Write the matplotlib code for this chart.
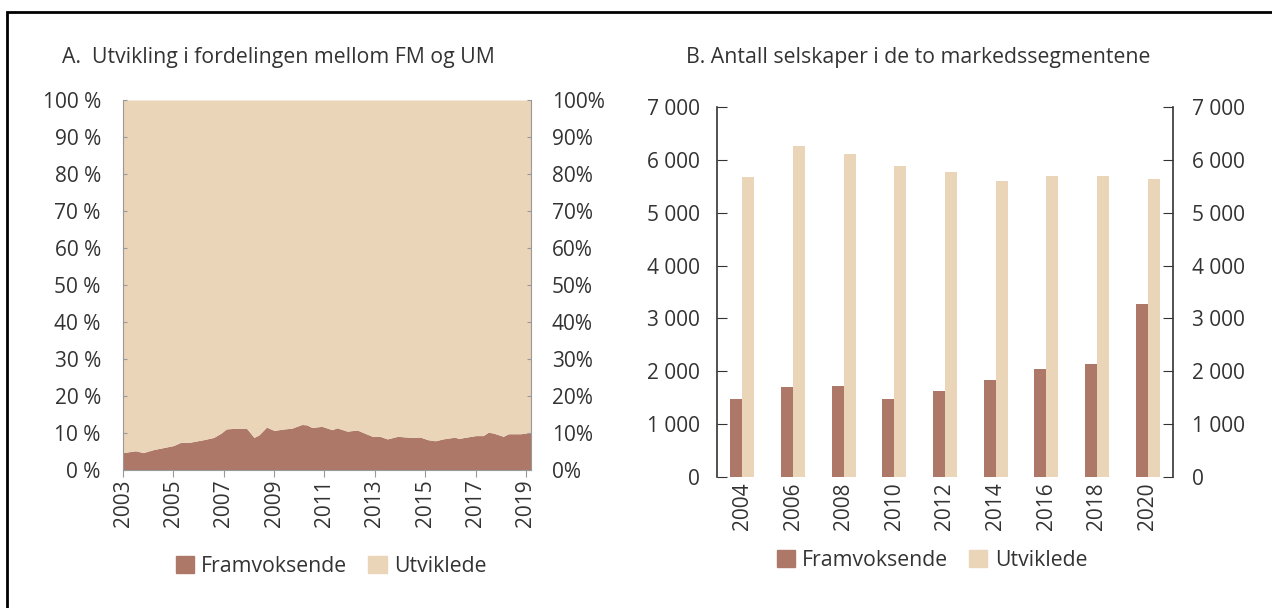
import matplotlib.pyplot as plt
import matplotlib.ticker as mticker
from matplotlib.patches import Patch, Rectangle

plt.rcParams['font.family'] = ['Open Sans', 'DejaVu Sans']
plt.rcParams['text.color'] = '#333333'
plt.rcParams['xtick.color'] = '#333333'
plt.rcParams['ytick.color'] = '#333333'

# Panel A: share of Framvoksende (FM) in percent
share_years = [2003.0, 2003.5, 2003.8, 2004.2, 2005.0, 2005.3, 2005.65, 2006.2, 2006.6,
               2006.9, 2007.1, 2007.5, 2007.9, 2008.0, 2008.2, 2008.4, 2008.7, 2009.0,
               2009.4, 2009.7, 2010.1, 2010.3, 2010.5, 2010.9, 2011.3, 2011.5, 2011.9,
               2012.3, 2012.9, 2013.2, 2013.5, 2013.9, 2014.5, 2014.8, 2015.1, 2015.4,
               2015.7, 2016.2, 2016.3, 2017.0, 2017.3, 2017.5, 2017.7, 2018.1, 2018.3,
               2018.8, 2019.2]
share_fm = [4.7, 5.2, 4.7, 5.5, 6.6, 7.5, 7.5, 8.2, 8.8,
            10.0, 11.1, 11.3, 11.3, 10.5, 8.8, 9.5, 11.6, 10.7,
            11.1, 11.3, 12.3, 12.2, 11.5, 11.8, 10.9, 11.4, 10.5,
            10.8, 9.1, 9.1, 8.4, 9.1, 8.8, 8.9, 8.2, 7.9,
            8.4, 8.9, 8.5, 9.3, 9.3, 10.2, 10.0, 9.1, 9.8,
            9.8, 10.2]

# Panel B: number of companies
bar_years = ['2004', '2006', '2008', '2010', '2012', '2014', '2016', '2018', '2020']
count_fm = [1482, 1709, 1722, 1482, 1633, 1835, 2037, 2144, 3267]
count_um = [5669, 6262, 6111, 5884, 5764, 5594, 5688, 5701, 5632]

dark = '#ad7868'
light = '#ebd5b9'
W, H = 1272, 608
fs = 15

fig = plt.figure(figsize=(12.72, 6.08), dpi=100)

# frame around the figure (cut at right/bottom)
fig.patches.append(Rectangle((7 / W, -0.1), 1.2, 1 - 11.5 / H + 0.1,
                             transform=fig.transFigure, fill=False,
                             edgecolor='black', linewidth=2))

# ---- Panel A ----
ax1 = fig.add_axes([123 / W, (H - 470) / H, 408 / W, 370 / H])
ax1.fill_between(share_years, 0, share_fm, color=dark, linewidth=0)
ax1.fill_between(share_years, share_fm, 100, color=light, linewidth=0)
ax1.set_xlim(2003, 2019.2)
ax1.set_ylim(0, 100)
ax1.set_yticks(range(0, 101, 10))
ax1.yaxis.set_major_formatter(mticker.FuncFormatter(lambda v, p: f'{int(v)} %'))
ax1.tick_params(axis='y', direction='in', length=3, color='#999999', labelsize=fs, pad=16)
ax1.set_xticks(range(2003, 2020, 2))
ax1.set_xticklabels([str(y) for y in range(2003, 2020, 2)], rotation=90)
ax1.tick_params(axis='x', direction='out', length=5, color='#999999', labelsize=fs, pad=2)
ax1.spines['top'].set_visible(False)
for s in ['left', 'right', 'bottom']:
    ax1.spines[s].set_color('#999999')
    ax1.spines[s].set_linewidth(0.8)

ax1r = ax1.twinx()
ax1r.set_ylim(0, 100)
ax1r.set_yticks(range(0, 101, 10))
ax1r.yaxis.set_major_formatter(mticker.FuncFormatter(lambda v, p: f'{int(v)}%'))
ax1r.tick_params(axis='y', direction='in', length=3, color='#999999', labelsize=fs, pad=15)
for s in ax1r.spines.values():
    s.set_visible(False)

fig.text(62 / W, 1 - 58 / H, 'A.  Utvikling i fordelingen mellom FM og UM',
         fontsize=15.3, va='center', ha='left')

fig.legend(handles=[Patch(color=dark, label='Framvoksende'),
                    Patch(color=light, label='Utviklede')],
           loc='center', bbox_to_anchor=(331 / W, 1 - 566 / H), ncol=2,
           frameon=False, fontsize=15.3, handlelength=0.85, handleheight=0.85,
           handletextpad=0.35, columnspacing=1.0)

# ---- Panel B ----
ax2 = fig.add_axes([717 / W, (H - 477) / H, 456 / W, 370 / H])
x = range(len(bar_years))
w = 0.24
ax2.bar([i - w / 2 for i in x], count_fm, width=w, color=dark, label='Framvoksende')
ax2.bar([i + w / 2 for i in x], count_um, width=w, color=light, label='Utviklede')
ax2.set_xlim(-0.5, len(bar_years) - 0.5)
ax2.set_ylim(0, 7000)
ax2.set_yticks(range(0, 7001, 1000))
fmt = mticker.FuncFormatter(lambda v, p: f'{int(v):,}'.replace(',', ' '))
ax2.yaxis.set_major_formatter(fmt)
ax2.tick_params(axis='y', direction='in', length=7, color='#333333', labelsize=fs, pad=12)
ax2.set_xticks(list(x))
ax2.set_xticklabels(bar_years, rotation=90)
ax2.tick_params(axis='x', length=0, labelsize=fs, pad=4)
ax2.spines['top'].set_visible(False)
ax2.spines['bottom'].set_visible(False)
for s in ['left', 'right']:
    ax2.spines[s].set_color('#333333')
    ax2.spines[s].set_linewidth(1.2)

ax2r = ax2.twinx()
ax2r.set_ylim(0, 7000)
ax2r.set_yticks(range(0, 7001, 1000))
ax2r.yaxis.set_major_formatter(fmt)
ax2r.tick_params(axis='y', direction='in', length=7, color='#333333', labelsize=fs, pad=14)
for s in ax2r.spines.values():
    s.set_visible(False)

fig.text(686 / W, 1 - 58 / H, 'B. Antall selskaper i de to markedssegmentene',
         fontsize=15.3, va='center', ha='left')

fig.legend(handles=[Patch(color=dark, label='Framvoksende'),
                    Patch(color=light, label='Utviklede')],
           loc='center', bbox_to_anchor=(932 / W, 1 - 560 / H), ncol=2,
           frameon=False, fontsize=15.3, handlelength=0.85, handleheight=0.85,
           handletextpad=0.35, columnspacing=1.0)

fig.savefig('out.png', dpi=100)
